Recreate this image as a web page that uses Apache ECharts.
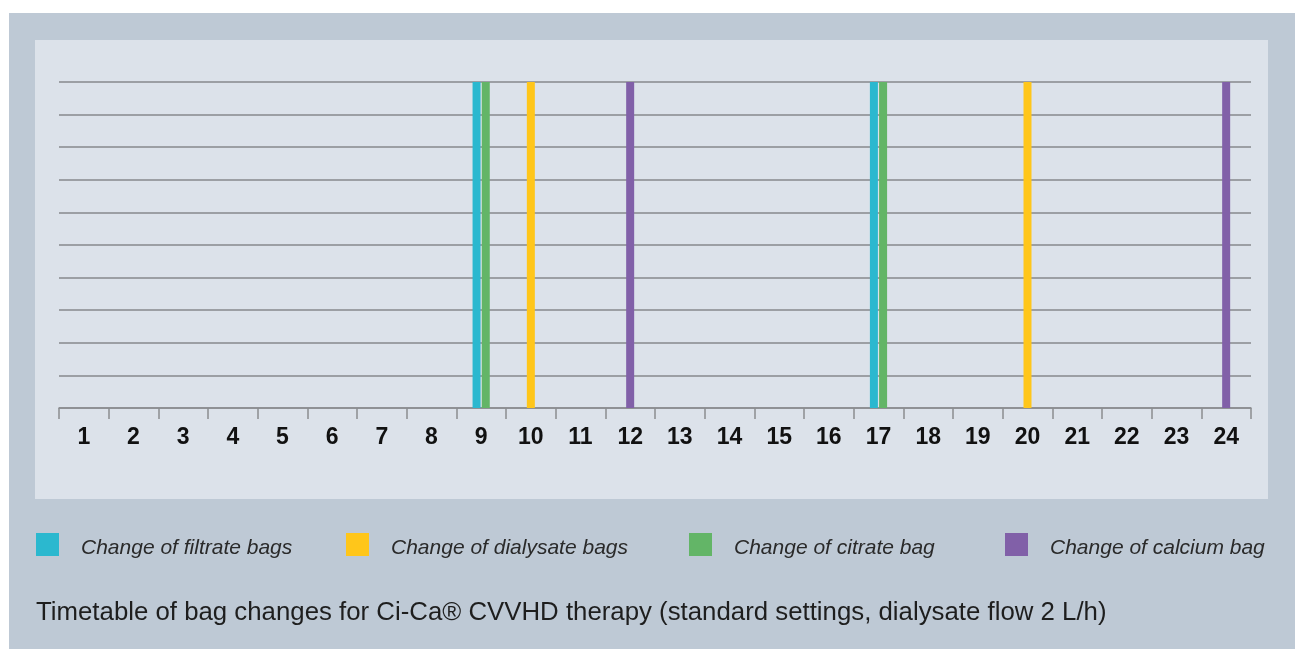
<!DOCTYPE html>
<html>
<head>
<meta charset="utf-8">
<script src="https://cdn.jsdelivr.net/npm/echarts@6/dist/echarts.min.js"></script>
<style>
html,body{margin:0;padding:0;background:#fff;}
#c{width:1295px;height:649px;}
</style>
</head>
<body>
<div id="c"></div>
<script>
const hours = ['1','2','3','4','5','6','7','8','9','10','11','12','13','14','15','16','17','18','19','20','21','22','23','24'];
const seriesNames = ['Change of filtrate bags','Change of dialysate bags','Change of citrate bag','Change of calcium bag'];
const filtrateHours = ['9','17'];
const dialysateHours = ['10','20'];
const citrateHours = ['9','17'];
const calciumHours = ['12','24'];
const barValue = 10;
const colors = ['#2BB8CF','#FFC61A','#63B567','#8160A8'];
const caption = 'Timetable of bag changes for Ci-Ca\u00AE CVVHD therapy (standard settings, dialysate flow 2 L/h)';

function toData(list){ return hours.map(h => list.includes(h) ? barValue : null); }

const chart = echarts.init(document.getElementById('c'));
const legendX = [36, 346, 689, 1005];
const legendTS = {
  rich:{t:{fontFamily:'Liberation Sans, Arial, sans-serif', fontStyle:'italic', fontSize:21, color:'#2a2a2a', padding:[8,0,0,17]}}
};
chart.setOption({
  backgroundColor:'#ffffff',
  animation:false,
  graphic:[
    {type:'rect', silent:true, z:-10, shape:{x:9,y:13,width:1286,height:636}, style:{fill:'#BEC9D5'}},
    {type:'rect', silent:true, z:-9, shape:{x:35,y:40,width:1233,height:459}, style:{fill:'#DCE2EA'}},
    {type:'text', left:36, top:600, style:{text:caption, font:'25.8px "Liberation Sans", Arial, sans-serif', fill:'#1e1e1e'}}
  ],
  legend: seriesNames.map((n,i)=>({
    data:[n], left:legendX[i], top:533, padding:0, icon:'rect', itemWidth:23, itemHeight:23,
    formatter:'{t|{name}}', textStyle:legendTS, selectedMode:false
  })),
  grid:{left:59, right:44, top:82, bottom:241, containLabel:false},
  xAxis:[
    {type:'category', data:hours, boundaryGap:true,
     axisLine:{show:true, lineStyle:{color:'#8a8d90', width:1.5}},
     axisTick:{show:true, inside:false, length:11, alignWithLabel:false, lineStyle:{color:'#8a8d90', width:1.5}},
     axisLabel:{color:'#111', fontWeight:'bold', fontSize:23, fontFamily:'Liberation Sans, Arial, sans-serif', margin:18}},
    {type:'category', data:hours, show:false}
  ],
  yAxis:{type:'value', min:0, max:10, interval:1,
    axisLine:{show:false}, axisTick:{show:false}, axisLabel:{show:false},
    splitLine:{lineStyle:{color:'#87898c', width:1.5}}},
  series:[
    {name:seriesNames[0], type:'bar', xAxisIndex:0, data:toData(filtrateHours), barWidth:8, barGap:'15%', itemStyle:{color:colors[0]}},
    {name:seriesNames[2], type:'bar', xAxisIndex:0, data:toData(citrateHours), barWidth:8, barGap:'15%', itemStyle:{color:colors[2]}},
    {name:seriesNames[1], type:'bar', xAxisIndex:1, stack:'single', data:toData(dialysateHours), barWidth:8, itemStyle:{color:colors[1]}},
    {name:seriesNames[3], type:'bar', xAxisIndex:1, stack:'single', data:toData(calciumHours), barWidth:8, itemStyle:{color:colors[3]}}
  ]
});
</script>
</body>
</html>
